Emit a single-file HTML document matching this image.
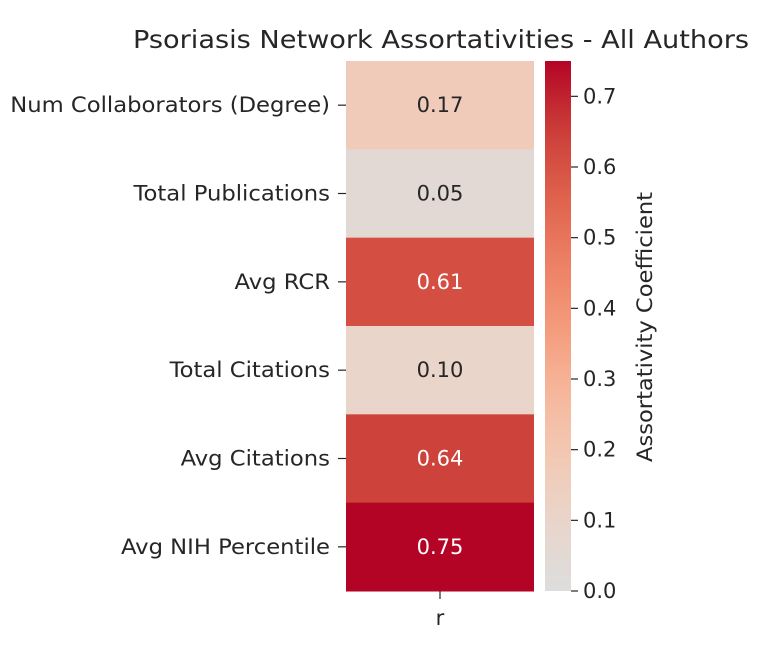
<!DOCTYPE html>
<html><head><meta charset="utf-8"><style>
body{margin:0;background:#fff;width:768px;height:641px;overflow:hidden}
svg text{font-family:"DejaVu Sans","Liberation Sans",sans-serif;fill:#262626}
</style></head><body>
<svg id="chart" width="768" height="641" xmlns="http://www.w3.org/2000/svg">
<text x="441" y="48" font-size="25" text-anchor="middle" textLength="616" lengthAdjust="spacingAndGlyphs">Psoriasis Network Assortativities - All Authors</text>
<g id="cells"></g><g id="ylabels"></g><g id="cbar"></g>
</svg>
<script>
const categories=["Num Collaborators (Degree)","Total Publications","Avg RCR","Total Citations","Avg Citations","Avg NIH Percentile"];
const values=[0.17,0.05,0.61,0.10,0.64,0.75];
const cbarTicks=[0.0,0.1,0.2,0.3,0.4,0.5,0.6,0.7];
const NS="http://www.w3.org/2000/svg";
const X0=346,X1=534,Y0=61,Y1=591,vmax=0.75;
const stops=[[0.5,[221,221,221]],[0.5625,[232,214,204]],[0.625,[242,201,181]],[0.6875,[246,183,156]],[0.75,[244,154,123]],[0.8125,[236,127,99]],[0.875,[222,96,76]],[0.9375,[202,60,56]],[1,[180,4,38]]];
function color(v){let t=0.5+v/(2*vmax);t=Math.max(0.5,Math.min(1,t));
for(let i=1;i<stops.length;i++){if(t<=stops[i][0]){const a=stops[i-1],b=stops[i];const f=(t-a[0])/(b[0]-a[0]);
const c=a[1].map((x,k)=>Math.round(x+(b[1][k]-x)*f));return `rgb(${c})`;}}return "rgb(180,4,38)";}
function el(tag,attrs,parent){const e=document.createElementNS(NS,tag);for(const k in attrs)e.setAttribute(k,attrs[k]);parent.appendChild(e);return e;}
const rowH=(Y1-Y0)/categories.length;
const yRow=i=>Y0+i*rowH;
const cells=document.getElementById('cells'),yl=document.getElementById('ylabels'),cb=document.getElementById('cbar');
categories.forEach((c,i)=>{
 const r=el('rect',{x:X0,y:yRow(i),width:X1-X0,height:rowH+0.5,fill:color(values[i])},cells);
 
 
 const t=el('text',{x:(X0+X1)/2,y:yRow(i)+rowH/2+7,'font-size':21,'text-anchor':'middle'},cells);
 t.textContent=values[i].toFixed(2);
 if(values[i]>0.45)t.style.fill="#fff";
 
 
 const tk=el('line',{x1:X0-8,x2:X0,y1:yRow(i)+rowH/2,y2:yRow(i)+rowH/2,stroke:'#262626','stroke-width':1.2},yl);
 
 
 const lb=el('text',{x:X0-16,y:yRow(i)+rowH/2+7,'font-size':21,'text-anchor':'end'},yl);
 lb.textContent=c;
 
 
 const w=lb.getComputedTextLength();
 lb.setAttribute('textLength',w*1.08);
 lb.setAttribute('lengthAdjust','spacingAndGlyphs');
});
const xt=el('line',{x1:440,x2:440,y1:Y1,y2:Y1+8,stroke:'#262626','stroke-width':1.2},yl);


const xl=el('text',{x:440,y:625,'font-size':21,'text-anchor':'middle'},yl);xl.textContent='r';


const CX0=545,CX1=571;
const cy=v=>Y1-(v/vmax)*(Y1-Y0);
const defs=el('defs',{},cb);const g=el('linearGradient',{id:'cg',x1:0,y1:1,x2:0,y2:0},defs);
for(let i=0;i<=20;i++){const v=vmax*i/20;el('stop',{offset:i/20,'stop-color':color(v)},g);}
const bar=el('rect',{x:CX0,y:Y0,width:CX1-CX0,height:Y1-Y0,fill:'url(#cg)'},cb);


cbarTicks.forEach(v=>{
 const l=el('line',{x1:CX1,x2:CX1+7,y1:cy(v),y2:cy(v),stroke:'#262626','stroke-width':1.2},cb);
 
 
 const t=el('text',{x:CX1+12,y:cy(v)+7,'font-size':21},cb);t.textContent=v.toFixed(1);
 
 
});
const ct=el('text',{x:0,y:0,'font-size':21,'text-anchor':'middle',textLength:270,lengthAdjust:'spacingAndGlyphs',transform:`translate(652,${(Y0+Y1)/2+1}) rotate(-90)`},cb);
ct.textContent='Assortativity Coefficient';


</script>
</body></html>
